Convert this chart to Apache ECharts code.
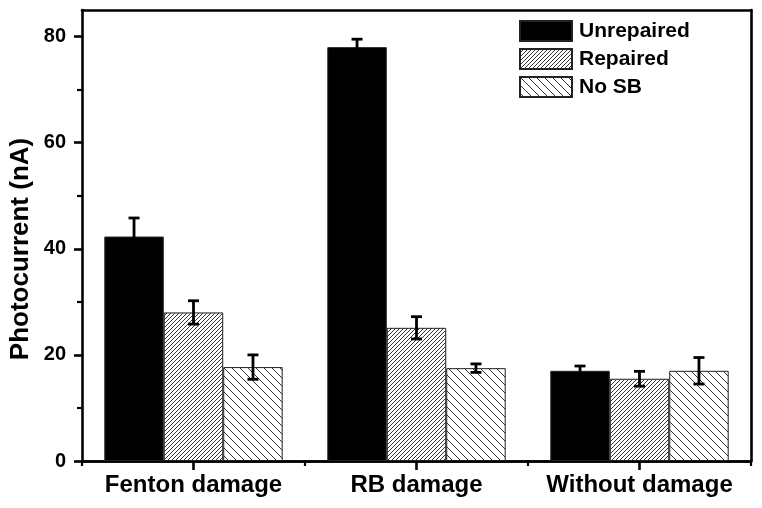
<!DOCTYPE html>
<html>
<head>
<meta charset="utf-8">
<script src="https://cdn.jsdelivr.net/npm/echarts@6/dist/echarts.min.js"></script>
<style>
html,body{margin:0;padding:0;background:#fff;}
#main{width:762px;height:508px;}
</style>
</head>
<body>
<div id="main"></div>
<script>
// ---- data ----
const categories = ['Fenton damage', 'RB damage', 'Without damage'];
const seriesNames = ['Unrepaired', 'Repaired', 'No SB'];
const unrepaired = [42.3, 78.0, 17.0];
const unrepairedErr = [3.5, 1.5, 0.9];
const repaired = [28.0, 25.1, 15.5];
const repairedErr = [2.2, 2.1, 1.4];
const noSB = [17.7, 17.5, 17.0];
const noSBErr = [2.3, 0.8, 2.5];
const yMajorTicks = [0, 20, 40, 60, 80];
const yMinorTicks = [10, 30, 50, 70];
const yMax = 85;

// ---- hatch patterns ----
function hatch(period, dir) {
  const c = document.createElement('canvas');
  c.width = period; c.height = period;
  const g = c.getContext('2d');
  g.fillStyle = '#fff';
  g.fillRect(0, 0, period, period);
  g.strokeStyle = '#333';
  g.lineWidth = 1;
  g.beginPath();
  if (dir === '/') {
    g.moveTo(-1, period + 1); g.lineTo(period + 1, -1);
    g.moveTo(-1, 1); g.lineTo(1, -1);
    g.moveTo(period - 1, period + 1); g.lineTo(period + 1, period - 1);
  } else {
    g.moveTo(-1, -1); g.lineTo(period + 1, period + 1);
    g.moveTo(period - 1, -1); g.lineTo(period + 1, 1);
    g.moveTo(-1, period - 1); g.lineTo(1, period + 1);
  }
  g.stroke();
  return c;
}
const fills = [
  '#000',
  { image: hatch(4, '/'), repeat: 'repeat' },
  { image: hatch(8, '\\'), repeat: 'repeat' }
];
const values = [unrepaired, repaired, noSB];
const errs = [unrepairedErr, repairedErr, noSBErr];

const FONT = 'Liberation Sans, Arial, sans-serif';
const chart = echarts.init(document.getElementById('main'), null, { renderer: 'canvas' });

const barSeries = values.map((vals, i) => ({
  name: seriesNames[i],
  type: 'bar',
  xAxisIndex: 0,
  yAxisIndex: 0,
  data: vals,
  barGap: '0%',
  barCategoryGap: '20%',
  itemStyle: { color: fills[i], borderColor: '#222', borderWidth: 1 },
  emphasis: { disabled: true },
  z: 2
}));

const errSeries = values.map((vals, i) => ({
  name: seriesNames[i] + ' err',
  type: 'custom',
  xAxisIndex: 0,
  yAxisIndex: 0,
  z: 5,
  silent: true,
  data: vals.map((v, k) => [k, v - errs[i][k], v + errs[i][k]]),
  encode: { x: 0, y: [1, 2] },
  renderItem: function (params, api) {
    const idx = api.value(0);
    const base = api.coord([idx, 0]);
    const band = api.size([1, 0])[0];
    const barW = band * 0.8 / 3;
    const cx = base[0] + (i - 1) * barW;
    const yLo = api.coord([idx, api.value(1)])[1];
    const yHi = api.coord([idx, api.value(2)])[1];
    const half = 5.5;
    const st = { stroke: '#000', lineWidth: 2.8 };
    return {
      type: 'group',
      children: [
        { type: 'line', shape: { x1: cx, y1: yLo, x2: cx, y2: yHi }, style: st },
        { type: 'line', shape: { x1: cx - half, y1: yHi, x2: cx + half, y2: yHi }, style: st },
        { type: 'line', shape: { x1: cx - half, y1: yLo, x2: cx + half, y2: yLo }, style: st }
      ]
    };
  }
}));

const option = {
  backgroundColor: '#fff',
  animation: false,
  textStyle: { fontFamily: FONT },
  grid: { left: 82, right: 11, top: 10, bottom: 47, containLabel: false },
  legend: {
    data: seriesNames,
    orient: 'vertical',
    left: 519,
    top: 20,
    padding: 0,
    itemWidth: 52,
    itemHeight: 20,
    itemGap: 6,
    icon: 'rect',
    selectedMode: false,
    textStyle: { fontFamily: FONT, fontWeight: 'bold', fontSize: 21, lineHeight: 20, color: '#000', padding: [0, 0, 0, 2] }
  },
  xAxis: [
    {
      type: 'category',
      data: categories,
      position: 'bottom',
      axisLine: { onZero: false, lineStyle: { color: '#000', width: 2.6 } },
      axisTick: { show: true, alignWithLabel: true, interval: 0, length: 9, lineStyle: { color: '#000', width: 2.6 } },
      axisLabel: { interval: 0, fontFamily: FONT, fontWeight: 'bold', fontSize: 24, color: '#000', margin: 12 },
      splitLine: { show: false }
    },
    {
      type: 'category',
      data: categories,
      position: 'bottom',
      axisLine: { show: true, onZero: false, lineStyle: { color: '#000', width: 2.6 } },
      axisTick: { show: true, alignWithLabel: false, interval: 0, length: 5, lineStyle: { color: '#000', width: 2.2 } },
      axisLabel: { show: false, interval: 0 },
      splitLine: { show: false }
    },
    {
      type: 'category',
      data: categories,
      position: 'top',
      axisLine: { show: true, onZero: false, lineStyle: { color: '#000', width: 2.6 } },
      axisTick: { show: false },
      axisLabel: { show: false },
      splitLine: { show: false }
    }
  ],
  yAxis: [
    {
      type: 'value',
      min: 0,
      max: yMax,
      position: 'left',
      axisLine: { show: true, onZero: false, lineStyle: { color: '#000', width: 2.6 } },
      axisTick: { show: true, length: 8, customValues: yMajorTicks, lineStyle: { color: '#000', width: 2.6 } },
      axisLabel: { customValues: yMajorTicks, fontFamily: FONT, fontWeight: 'bold', fontSize: 20, color: '#000', margin: 16 },
      splitLine: { show: false }
    },
    {
      type: 'value',
      min: 0,
      max: yMax,
      position: 'left',
      axisLine: { show: false, onZero: false },
      axisTick: { show: true, length: 5, customValues: yMinorTicks, lineStyle: { color: '#000', width: 2.2 } },
      axisLabel: { show: false },
      splitLine: { show: false }
    },
    {
      type: 'value',
      min: 0,
      max: yMax,
      position: 'right',
      axisLine: { show: true, onZero: false, lineStyle: { color: '#000', width: 2.6 } },
      axisTick: { show: false },
      axisLabel: { show: false },
      splitLine: { show: false }
    }
  ],
  graphic: [
    {
      type: 'text',
      x: 21,
      y: 249,
      rotation: Math.PI / 2,
      style: {
        text: 'Photocurrent (nA)',
        font: 'bold 26px ' + FONT,
        fill: '#000',
        align: 'center',
        verticalAlign: 'middle'
      }
    }
  ],
  series: barSeries.concat(errSeries)
};
chart.setOption(option);
</script>
</body>
</html>
